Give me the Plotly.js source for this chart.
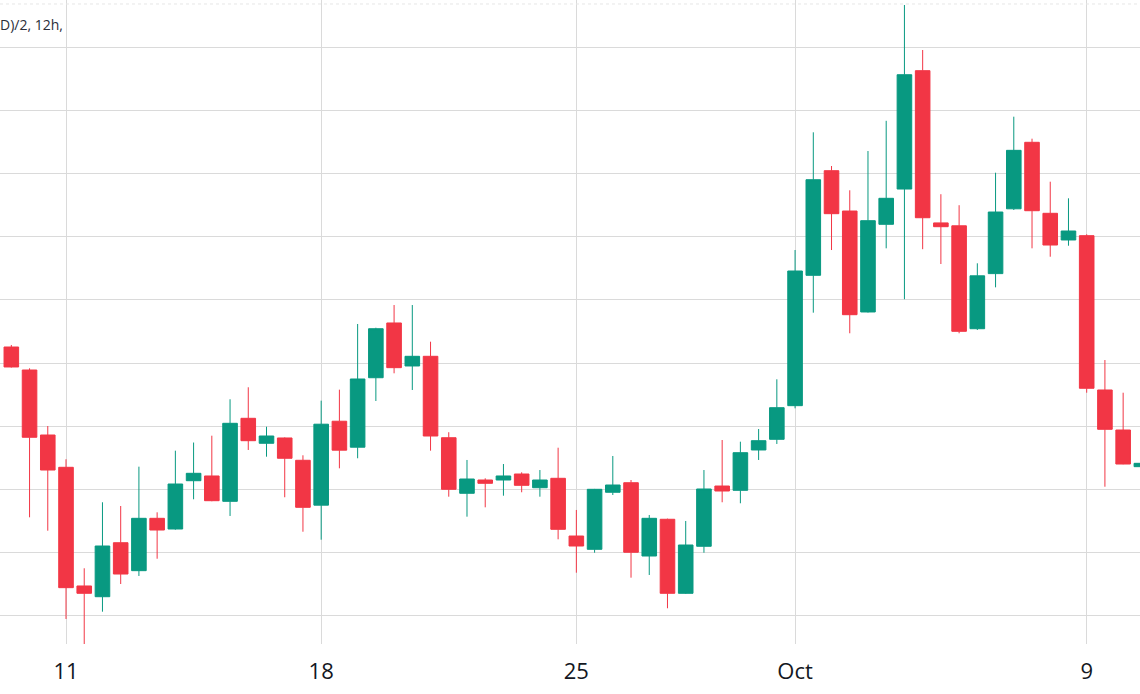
<!DOCTYPE html>
<html>
<head>
<meta charset="utf-8">
<script src="https://cdn.plot.ly/plotly-3.0.1.min.js"></script>
<style>
html, body { margin: 0; padding: 0; background: #ffffff; }
#chart { width: 1140px; height: 694px; }
</style>
</head>
<body>
<div id="chart"></div>
<script>
// 12h candles, timestamps at candle open
var times = [
  '2023-09-09 12:00','2023-09-10 00:00','2023-09-10 12:00','2023-09-11 00:00','2023-09-11 12:00',
  '2023-09-12 00:00','2023-09-12 12:00','2023-09-13 00:00','2023-09-13 12:00','2023-09-14 00:00',
  '2023-09-14 12:00','2023-09-15 00:00','2023-09-15 12:00','2023-09-16 00:00','2023-09-16 12:00',
  '2023-09-17 00:00','2023-09-17 12:00','2023-09-18 00:00','2023-09-18 12:00','2023-09-19 00:00',
  '2023-09-19 12:00','2023-09-20 00:00','2023-09-20 12:00','2023-09-21 00:00','2023-09-21 12:00',
  '2023-09-22 00:00','2023-09-22 12:00','2023-09-23 00:00','2023-09-23 12:00','2023-09-24 00:00',
  '2023-09-24 12:00','2023-09-25 00:00','2023-09-25 12:00','2023-09-26 00:00','2023-09-26 12:00',
  '2023-09-27 00:00','2023-09-27 12:00','2023-09-28 00:00','2023-09-28 12:00','2023-09-29 00:00',
  '2023-09-29 12:00','2023-09-30 00:00','2023-09-30 12:00','2023-10-01 00:00','2023-10-01 12:00',
  '2023-10-02 00:00','2023-10-02 12:00','2023-10-03 00:00','2023-10-03 12:00','2023-10-04 00:00',
  '2023-10-04 12:00','2023-10-05 00:00','2023-10-05 12:00','2023-10-06 00:00','2023-10-06 12:00',
  '2023-10-07 00:00','2023-10-07 12:00','2023-10-08 00:00','2023-10-08 12:00','2023-10-09 00:00',
  '2023-10-09 12:00','2023-10-10 00:00','2023-10-10 12:00'
];
var openV = [
  1925.5,1889.1,1786.3,1735.2,1547.5,1530.5,1615.9,1571.7,1654.5,1637.6,
  1714.0,1721.5,1681.4,1812.7,1773.2,1781.6,1746.3,1675.3,1808.1,1767.0,
  1876.9,1963.5,1895.5,1910.8,1782.0,1694.1,1715.1,1715.1,1724.6,1702.9,
  1717.8,1626.5,1605.5,1695.7,1710.8,1594.9,1653.0,1535.9,1610.3,1705.6,
  1698.8,1762.6,1779.5,1832.7,2038.9,2204.4,2140.6,1980.9,2119.6,2175.4,
  2362.6,2121.8,2117.2,1954.4,2041.6,2144.1,2249.3,2137.0,2094.8,2101.6,
  1857.5,1794.2,1736.2
];
var highV = [
  1928.7,1891.8,1800.5,1747.9,1575.5,1679.9,1674.0,1736.2,1664.0,1761.5,
  1774.4,1785.2,1842.8,1861.8,1799.4,1782.5,1754.2,1840.6,1858.0,1961.9,
  1956.0,1991.9,1991.9,1933.9,1790.7,1746.8,1717.8,1740.4,1727.3,1730.9,
  1766.2,1667.7,1701.0,1753.1,1715.1,1659.8,1654.0,1650.3,1730.9,1778.4,
  1775.7,1795.8,1874.4,2078.9,2265.1,2211.8,2173.4,2235.5,2283.3,2466.5,
  2395.3,2167.2,2149.8,2057.9,2201.2,2289.8,2255.0,2187.0,2160.7,2103.8,
  1904.9,1853.2,1745.0
];
var lowV = [
  1893.0,1656.1,1634.9,1495.3,1450.0,1506.8,1550.6,1563.3,1590.6,1636.5,
  1684.6,1681.5,1658.2,1762.6,1752.0,1687.8,1633.3,1620.7,1733.6,1749.5,
  1840.1,1883.9,1857.5,1761.5,1688.7,1657.1,1671.9,1690.3,1695.7,1688.7,
  1621.3,1568.5,1600.1,1691.4,1560.6,1564.9,1512.2,1535.0,1600.1,1679.9,
  1678.3,1746.8,1772.1,1828.5,1979.8,2078.9,1947.2,1980.0,2081.6,2001.1,
  2080.2,2056.8,1947.2,1952.4,2019.9,2142.2,2081.6,2068.3,2085.7,1853.2,
  1704.5,1740.0,1732.0
];
var closeV = [
  1893.9,1782.7,1730.9,1544.8,1535.9,1610.7,1566.4,1654.5,1636.0,1708.8,
  1725.7,1682.4,1804.8,1777.3,1784.7,1749.5,1671.9,1803.4,1762.3,1874.9,
  1954.4,1892.8,1910.8,1784.7,1700.4,1716.7,1709.9,1721.5,1706.7,1715.1,
  1637.1,1610.7,1700.4,1707.2,1600.8,1654.5,1535.9,1612.3,1700.9,1697.7,
  1758.3,1777.3,1829.5,2045.7,2190.1,2136.4,1976.6,2125.3,2160.7,2356.2,
  2130.0,2115.8,1950.3,2038.1,2139.0,2236.6,2141.1,2086.8,2109.0,1860.2,
  1795.3,1740.4,1741.5
];
var tickDates = ['2023-09-11','2023-09-18','2023-09-25','2023-10-01','2023-10-09'];
var tickLabels = ['11','18','25','Oct','9'];

var upColor = '#089981';
var downColor = '#F23645';

var trace = {
  type: 'candlestick',
  x: times,
  open: openV,
  high: highV,
  low: lowV,
  close: closeV,
  increasing: { line: { color: upColor, width: 1 }, fillcolor: upColor },
  decreasing: { line: { color: downColor, width: 1 }, fillcolor: downColor },
  whiskerwidth: 0,
  hoverinfo: 'skip',
  showlegend: false
};

var layout = {
  width: 1140,
  height: 694,
  margin: { l: 0, r: 0, t: 0, b: 50 },
  paper_bgcolor: '#ffffff',
  plot_bgcolor: '#ffffff',
  boxmode: 'overlay',
  boxgap: 0.2,
  boxgroupgap: 0,
  showlegend: false,
  xaxis: {
    type: 'date',
    range: ['2023-09-09 04:32:35', '2023-10-10 11:05:42'],
    rangeslider: { visible: false },
    tickmode: 'array',
    tickvals: tickDates,
    ticktext: tickLabels,
    showgrid: true,
    gridcolor: '#dadada',
    gridwidth: 1,
    zeroline: false,
    showline: false,
    ticks: 'outside',
    ticklen: 8,
    tickcolor: 'rgba(0,0,0,0)',
    tickfont: { family: 'Open Sans, sans-serif', size: 22, color: '#131722' },
    fixedrange: true
  },
  yaxis: {
    range: [1455.7, 2474.4],
    tick0: 1500,
    dtick: 100,
    showticklabels: false,
    showgrid: true,
    gridcolor: '#dadada',
    gridwidth: 1,
    zeroline: false,
    showline: false,
    ticks: '',
    fixedrange: true
  },
  shapes: [
    { type: 'line', xref: 'paper', yref: 'paper', x0: 0, x1: 1, y0: 0.9938, y1: 0.9938,
      line: { color: '#e6e6e6', width: 1, dash: 'dot' } }
  ],
  annotations: [
    { xref: 'paper', yref: 'paper', x: -0.002, y: 0.962, xanchor: 'left', yanchor: 'middle',
      text: 'D)/2, 12h,', showarrow: false,
      font: { family: 'Open Sans, sans-serif', size: 14, color: '#2a2e39' } }
  ]
};

Plotly.newPlot('chart', [trace], layout, { staticPlot: true, displayModeBar: false });
</script>
</body>
</html>
